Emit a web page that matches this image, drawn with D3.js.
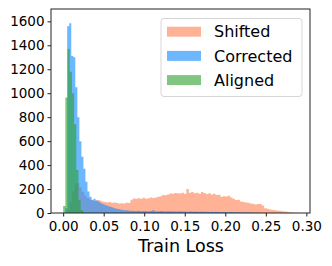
<!DOCTYPE html>
<html>
<head>
<script src="https://d3js.org/d3.v7.min.js"></script>
<style>
	body { margin: 0; background: #fff; }
	text { font-family: "DejaVu Sans", sans-serif; }
</style>
</head>
<body>
<script>

// histogram counts (start of first bin, bin width, counts)
const seriesNames = ["Shifted", "Corrected", "Aligned"];

const shiftedStart = 0.005, shiftedWidth = 0.003;
const shiftedCounts = [
	20, 90, 180, 240, 250, 215, 175, 145, 125, 112,
	105, 100, 108, 104, 96, 92, 88, 92, 86, 88,
	84, 80, 82, 80, 85, 84, 110, 122, 118, 124,
	120, 128, 118, 124, 130, 126, 130, 136, 140, 150,
	148, 155, 162, 160, 168, 165, 162, 170, 160, 200,
	170, 175, 165, 170, 160, 175, 168, 158, 165, 155,
	160, 150, 152, 135, 140, 138, 145, 130, 120, 108,
	110, 95, 92, 88, 85, 80, 78, 70, 75, 75,
	62, 40, 35, 30, 25, 22, 20, 18, 15, 12,
	10, 6, 4, 3, 2
];

const correctedStart = 0, correctedWidth = 0.0025;
const correctedCounts = [
	0, 40, 1560, 1585, 1310, 1300, 1050, 800, 600, 470,
	370, 260, 180, 135, 110, 120, 105, 95, 85, 75,
	68, 62, 56, 52, 45, 40, 36, 32, 30, 26,
	24, 22, 20, 19, 18, 17, 16, 18, 15, 16,
	17, 15, 14, 16, 25, 15, 14, 15, 16, 14,
	13, 15, 14, 13, 14, 12, 13, 14, 12, 13,
	12, 11, 13, 12, 11, 12, 10, 11, 12, 10,
	11, 10, 9, 10, 9, 10, 9, 8, 9, 8,
	8, 7, 8, 7, 6, 7, 6, 5, 6, 5,
	5, 4, 4, 3, 3, 2, 2, 1, 1, 1
];

const alignedStart = 0, alignedWidth = 0.0027;
const alignedCounts = [58, 965, 1370, 1180, 1000, 740, 360, 110, 25, 5];

const colors = ["#ff7f50", "#1e90ff", "#2ca02c"];
const opacities = [0.6, 0.65, 0.6];

const yTicks = [0, 200, 400, 600, 800, 1000, 1200, 1400, 1600];
const xTicks = [0, 0.05, 0.10, 0.15, 0.20, 0.25, 0.30];

const width = 332, height = 266;
const plotLeft = 51, plotRight = 310, plotTop = 9, plotBottom = 213;

const x = d3.scaleLinear().domain([-0.015, 0.3045]).range([plotLeft, plotRight]);
const y = d3.scaleLinear().domain([0, 1703]).range([plotBottom, plotTop]);

const svg = d3.select("body").append("svg")
	.attr("width", width)
	.attr("height", height);

function binsOf(start, w, counts) {
	// step points: one per bin edge, last one closes the shape
	const pts = counts.map((c, i) => [start + i * w, c]);
	pts.push([start + counts.length * w, 0]);
	return pts;
}

const series = [
	binsOf(shiftedStart, shiftedWidth, shiftedCounts),
	binsOf(correctedStart, correctedWidth, correctedCounts),
	binsOf(alignedStart, alignedWidth, alignedCounts)
];

const area = d3.area()
	.curve(d3.curveStepAfter)
	.x(d => x(d[0]))
	.y0(y(0))
	.y1(d => y(d[1]));

svg.selectAll("path.hist")
	.data(series)
	.enter()
	.append("path")
	.attr("class", "hist")
	.attr("d", area)
	.attr("fill", (d, i) => colors[i])
	.attr("fill-opacity", (d, i) => opacities[i]);

// axes
const yAxis = d3.axisLeft(y)
	.tickValues(yTicks)
	.tickFormat(d3.format("d"))
	.tickSize(3.5)
	.tickPadding(3);

svg.append("g")
	.attr("transform", "translate(" + plotLeft + ",0)")
	.call(yAxis)
	.call(g => g.select(".domain").remove())
	.call(g => g.selectAll("text").style("font-size", "13.5px").attr("fill", "#000"))
	.call(g => g.selectAll("line").attr("stroke", "#222"));

const xAxis = d3.axisBottom(x)
	.tickValues(xTicks)
	.tickFormat(d3.format(".2f"))
	.tickSize(3.5)
	.tickPadding(5);

svg.append("g")
	.attr("transform", "translate(0," + plotBottom + ")")
	.call(xAxis)
	.call(g => g.select(".domain").remove())
	.call(g => g.selectAll("text").style("font-size", "13.5px").attr("fill", "#000"))
	.call(g => g.selectAll("line").attr("stroke", "#222"));

// frame
svg.append("rect")
	.attr("x", plotLeft)
	.attr("y", plotTop)
	.attr("width", plotRight - plotLeft)
	.attr("height", plotBottom - plotTop)
	.attr("fill", "none")
	.attr("stroke", "#222")
	.attr("stroke-width", 1);

svg.append("text")
	.attr("x", (136.7 + 225.3) / 2)
	.attr("y", 251.5)
	.attr("text-anchor", "middle")
	.style("font-size", "17.5px")
	.text("Train Loss");

// legend
const legend = svg.append("g");
legend.append("rect")
	.attr("x", 161)
	.attr("y", 18.5)
	.attr("width", 141)
	.attr("height", 78)
	.attr("rx", 3)
	.attr("fill", "#fff")
	.attr("fill-opacity", 0.8)
	.attr("stroke", "#d6d6d6");

const rows = legend.selectAll("g.row")
	.data(seriesNames)
	.enter()
	.append("g")
	.attr("class", "row")
	.attr("transform", (d, i) => "translate(0," + (31.7 + i * 24.2) + ")");

rows.append("rect")
	.attr("x", 167)
	.attr("y", -5)
	.attr("width", 34)
	.attr("height", 10)
	.attr("fill", (d, i) => colors[i])
	.attr("fill-opacity", (d, i) => opacities[i]);

rows.append("text")
	.attr("x", 214)
	.attr("y", 5.7)
	.style("font-size", "16px")
	.text(d => d);

</script>
</body>
</html>
